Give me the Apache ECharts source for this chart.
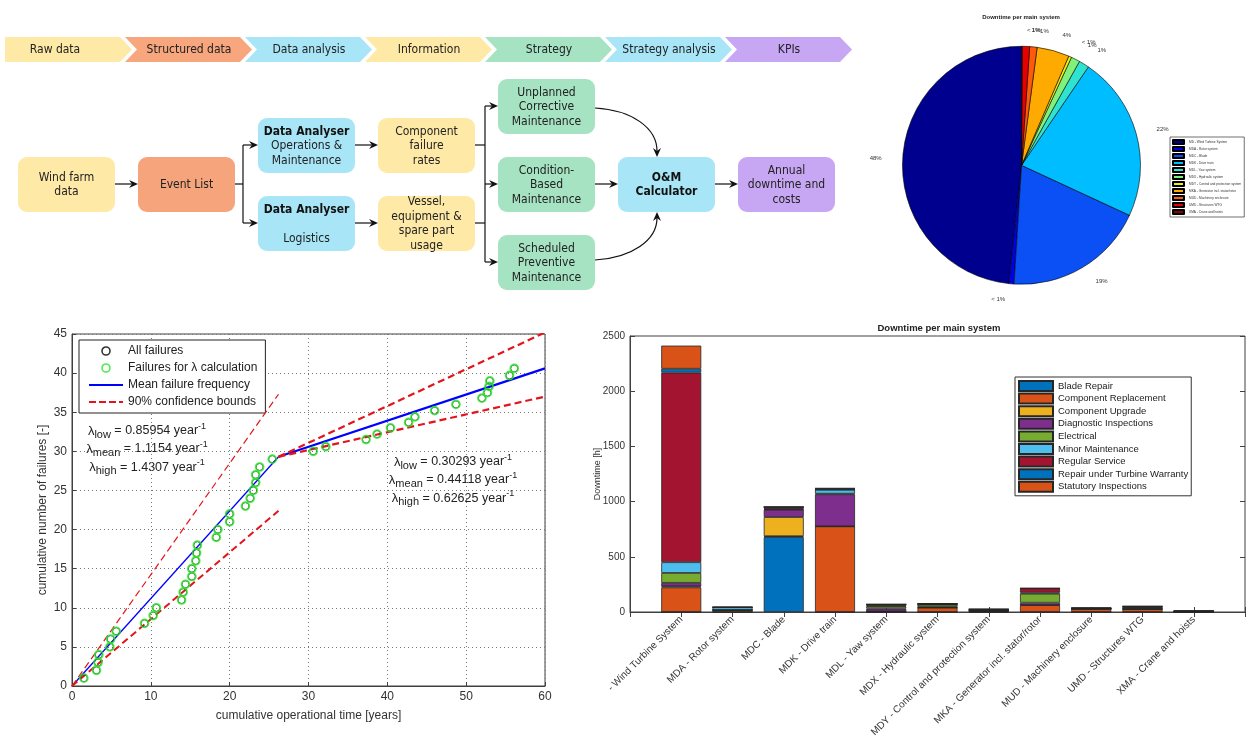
<!DOCTYPE html>
<html><head><meta charset="utf-8">
<script src="https://cdn.jsdelivr.net/npm/echarts@6/dist/echarts.min.js"></script>
<style>html,body{margin:0;padding:0;background:#fff}#c{width:1256px;height:741px}</style>
</head><body><div id="c"></div>
<script>
// ================= DATA =================
// process flow (diagram)
const stageLabels = ['Raw data','Structured data','Data analysis','Information','Strategy','Strategy analysis','KPIs'];
const stageColors = ['#FEEAA6','#F7A67D','#A8E5F6','#FEEAA6','#A6E3C3','#A8E5F6','#C7A7F3'];

// failure data (cumulative operational time [years], cumulative number of failures)
const failTime  = [1.5,3.1,3.3,3.4,4.8,4.9,5.6,9.2,10.3,10.7,13.9,14.1,14.4,15.2,15.2,15.7,15.8,15.9,18.3,18.5,20.0,20.0,22.0,22.6,23.0,23.3,23.3,23.8,25.4,30.6,32.2,37.3,38.7,40.4,42.7,43.5,46.0,48.7,52.0,52.7,52.9,53.0,55.5,56.1];
const failCount = [1,2,3,4,5,6,7,8,9,10,11,12,13,14,15,16,17,18,19,20,21,22,23,24,25,26,27,28,29,30.0,30.6,31.5,32.2,33.0,33.7,34.4,35.2,36.0,36.8,37.5,38.3,39.0,39.7,40.6];
// fitted lines
const meanT1 = [0, 26.2],  meanN1 = [0, 29.3];
const meanT2 = [26.2, 60], meanN2 = [29.3, 40.6];
const highT1 = [0, 26.2],  highN1 = [0, 37.3];
const lowT1  = [0, 26.2],  lowN1  = [0, 22.4];
const highT2 = [26.2, 60], highN2 = [29.3, 45.2];
const lowT2  = [26.2, 60], lowN2  = [29.3, 37.0];
const lambdaLeft  = [['low','0.85954'],['mean','1.1154'],['high','1.4307']];
const lambdaRight = [['low','0.30293'],['mean','0.44118'],['high','0.62625']];

// pie: downtime share per main system [%]
const pieNames  = ['MD - Wind Turbine System','MDA - Rotor system','MDC - Blade','MDK - Drive train','MDL - Yaw system','MDX - Hydraulic system','MDY - Control and protection system','MKA - Generator incl. stator/rotor','MUD - Machinery enclosure','UMD - Structures WTG','XMA - Crane and hoists'];
const pieShares = [48.3, 0.7, 19.1, 22.4, 1.4, 1.2, 0.4, 4.4, 1.0, 1.0, 0.1];
const pieColors = ['#00008F','#0000E6','#0A50F5','#00BDFF','#2EE3CF','#80F27C','#F0EE10','#FFAA00','#FF5A0A','#E60000','#8C0000'];

// stacked bar: downtime [h] per main system and activity
const barCategories = ['- Wind Turbine System','MDA - Rotor system','MDC - Blade','MDK - Drive train','MDL - Yaw system','MDX - Hydraulic system','MDY - Control and protection system','MKA - Generator incl. stator/rotor','MUD - Machinery enclosure','UMD - Structures WTG','XMA - Crane and hoists'];
const barSeriesNames = ['Blade Repair','Component Replacement','Component Upgrade','Diagnostic Inspections','Electrical','Minor Maintenance','Regular Service','Repair under Turbine Warranty','Statutory Inspections'];
const barColors = ['#0072BD','#D95319','#EDB120','#7E2F8E','#77AC30','#4DBEEE','#A2142F','#0072BD','#D95319'];
const bladeRepair          = [0,   0, 679,   0,  0,  0,  0,  0,  0,  0, 0];
const componentReplacement = [223, 18,  8, 776,  5, 40, 10, 63, 30, 27, 3];
const componentUpgrade     = [10,   0, 173,  0,  0,  0,  0,  0,  0,  0, 0];
const diagnosticInspections= [31,   0, 67, 290, 25,  5,  5, 21,  0,  0, 3];
const electrical           = [90,   0,  5,   6, 20, 22,  0, 82,  0, 12, 0];
const minorMaintenance     = [97,  25,  5,  36,  5,  0,  0,  9,  0,  0, 0];
const regularService       = [1717, 0, 14,   0, 14,  8, 10, 39,  6, 12, 3];
const repairWarranty       = [35,   0,  0,  12,  0,  0,  0,  0,  0,  0, 0];
const statutoryInspections = [210,  0,  0,   0,  0,  0,  0,  0,  0,  0, 0];
const barValues = [bladeRepair,componentReplacement,componentUpgrade,diagnosticInspections,electrical,minorMaintenance,regularService,repairWarranty,statutoryInspections];

// ================= RENDER =================
const FLOWFONT = "'DejaVu Sans Condensed','Liberation Sans Narrow','DejaVu Sans',sans-serif";
const FONT = "'Liberation Sans', Arial, Helvetica, sans-serif";
const zip = (a, b) => a.map((v, i) => [v, b[i]]);
const chart = echarts.init(document.getElementById('c'));

// ---------- flow diagram graphic ----------
const g = [];
stageLabels.forEach((lab, i) => {
  const x0 = 5 + 120 * i;
  const pts = [[x0,37],[x0+115,37],[x0+127,49.5],[x0+115,62],[x0,62]];
  if (i > 0) pts.push([x0+12,49.5]);
  g.push({type:'polygon', shape:{points:pts}, style:{fill:stageColors[i]}});
  g.push({type:'text', style:{text:lab, x:x0 + (i ? 64 : 50), y:50, align:'center', verticalAlign:'middle', textAlign:'center', textVerticalAlign:'middle', fontSize:12, fontFamily:FLOWFONT, fill:'#222'}});
});
const boxes = [
  [18,157,'#FEEAA6','Wind farm\ndata'],
  [138,157,'#F5A47C','Event List'],
  [258,118,'#A8E5F6','{b|Data Analyser}\nOperations &\nMaintenance'],
  [258,196,'#A8E5F6','{b|Data Analyser}\n\nLogistics'],
  [378,118,'#FEEAA6','Component\nfailure\nrates'],
  [378,196,'#FEEAA6','Vessel,\nequipment &\nspare part\nusage'],
  [498,79,'#A6E3C3','Unplanned\nCorrective\nMaintenance'],
  [498,157,'#A6E3C3','Condition-\nBased\nMaintenance'],
  [498,235,'#A6E3C3','Scheduled\nPreventive\nMaintenance'],
  [618,157,'#A8E5F6','{b|O&M}\n{b|Calculator}'],
  [738,157,'#C7A7F3','Annual\ndowntime and\ncosts']
];
boxes.forEach(([x,y,c,t]) => {
  g.push({type:'rect', shape:{x:x, y:y, width:97, height:55, r:9}, style:{fill:c}});
  g.push({type:'text', style:{text:t, x:x+48.5, y:y+28, align:'center', verticalAlign:'middle', textAlign:'center', textVerticalAlign:'middle', fontSize:12, lineHeight:14.5, fontFamily:FLOWFONT, fill:'#222',
    rich:{b:{fontWeight:'bold', fontSize:12, lineHeight:14.5, fontFamily:FLOWFONT, fill:'#111'}}}});
});
const LS = {stroke:'#111', lineWidth:1.2};
function head(tx, ty, dx, dy) {
  const L = 9, W = 4, N = 3, bx = tx - L*dx, by = ty - L*dy, nx = -dy, ny = dx;
  return {type:'polygon', shape:{points:[[tx,ty],[bx+W*nx,by+W*ny],[tx-(L-N)*dx,ty-(L-N)*dy],[bx-W*nx,by-W*ny]]}, style:{fill:'#111'}};
}
function harrow(x1, x2, y) {
  g.push({type:'line', shape:{x1:x1, y1:y, x2:x2-6, y2:y}, style:LS});
  g.push(head(x2, y, 1, 0));
}
harrow(115,138,184);
g.push({type:'line', shape:{x1:235,y1:184,x2:243,y2:184}, style:LS});
g.push({type:'line', shape:{x1:243,y1:145,x2:243,y2:223}, style:LS});
harrow(243,258,145); harrow(243,258,223);
harrow(355,378,145); harrow(355,378,223);
g.push({type:'line', shape:{x1:475,y1:145,x2:485,y2:145}, style:LS});
g.push({type:'line', shape:{x1:475,y1:223,x2:485,y2:223}, style:LS});
g.push({type:'line', shape:{x1:485,y1:106,x2:485,y2:262}, style:LS});
harrow(485,498,106); harrow(485,498,184); harrow(485,498,262);
harrow(595,618,184);
harrow(715,738,184);
g.push({type:'bezierCurve', shape:{x1:595,y1:108,cpx1:632,cpy1:110,cpx2:657,cpy2:128,x2:657,y2:151}, style:Object.assign({fill:null}, LS)});
g.push(head(657,157,0,1));
g.push({type:'bezierCurve', shape:{x1:595,y1:260,cpx1:632,cpy1:258,cpx2:657,cpy2:240,x2:657,y2:218}, style:Object.assign({fill:null}, LS)});
g.push(head(657,212,0,-1));

// titles
g.push({type:'text', style:{text:'Downtime per main system', x:1021, y:17, align:'center', verticalAlign:'middle', textAlign:'center', textVerticalAlign:'middle', fontSize:6, fontWeight:'bold', fontFamily:FONT, fill:'#222'}});
g.push({type:'text', style:{text:'Downtime per main system', x:939, y:328, align:'center', verticalAlign:'middle', textAlign:'center', textVerticalAlign:'middle', fontSize:9.5, fontWeight:'bold', fontFamily:FONT, fill:'#222'}});

// lambda annotations
const lamRich = {
  g:{fontSize:13, lineHeight:18, fontFamily:FONT, fill:'#222'},
  t:{fontSize:12.5, lineHeight:18, fontFamily:FONT, fill:'#222'},
  s:{fontSize:11, lineHeight:7, verticalAlign:'bottom', fontFamily:FONT, fill:'#222'},
  p:{fontSize:9, lineHeight:8, verticalAlign:'top', fontFamily:FONT, fill:'#222'}
};
function lamText(arr, cx, ys) {
  arr.forEach(([sub, val], i) => {
    g.push({type:'text', style:{text:'{g|λ}{s|' + sub + '}{t| = ' + val + ' year}{p|-1}', x:cx, y:ys[i], align:'center', verticalAlign:'middle', textAlign:'center', textVerticalAlign:'middle', rich:lamRich}});
  });
}
lamText(lambdaLeft, 147, [431, 449, 467.5]);
lamText(lambdaRight, 453, [462, 480, 498.5]);

// ---------- series ----------
const series = [];
const red = '#E3141B', blue = '#0000FF', green = '#26E626';
series.push({type:'line', name:'Mean failure frequency', xAxisIndex:0, yAxisIndex:0, data:zip(meanT2, meanN2), symbol:'none', showSymbol:false, lineStyle:{color:blue, width:2.2}, itemStyle:{color:blue}, z:3});
series.push({type:'line', name:'Mean failure frequency', xAxisIndex:0, yAxisIndex:0, data:zip(meanT1, meanN1), symbol:'none', showSymbol:false, lineStyle:{color:blue, width:1.3}, itemStyle:{color:blue}, z:3});
[[highT2,highN2,2.2],[lowT2,lowN2,2.2],[lowT1,lowN1,2],[highT1,highN1,1.2]].forEach(([t,n,w]) => {
  series.push({type:'line', name:'90% confidence bounds', xAxisIndex:0, yAxisIndex:0, data:zip(t,n), symbol:'none', showSymbol:false, lineStyle:{color:red, width:w, type:[7,4]}, itemStyle:{color:red}, z:4});
});
series.push({type:'scatter', name:'All failures', xAxisIndex:0, yAxisIndex:0, data:zip(failTime, failCount), symbol:'circle', symbolSize:7,
  itemStyle:{color:'rgba(0,0,0,0)', borderColor:'#000', borderWidth:0.8}, z:5});
series.push({type:'scatter', name:'Failures for λ calculation', xAxisIndex:0, yAxisIndex:0, data:zip(failTime, failCount), symbol:'circle', symbolSize:8,
  itemStyle:{color:'rgba(0,0,0,0)', borderColor:green, borderWidth:1.7}, z:6});

// pie
series.push({type:'pie', name:'Downtime per main system', center:[1021.5,165.3], radius:119, startAngle:90, clockwise:false,
  avoidLabelOverlap:false, silent:true, minShowLabelAngle:0,
  data: pieNames.map((n, i) => ({name:n, value:pieShares[i], itemStyle:{color:pieColors[i]}})),
  itemStyle:{borderColor:'#000', borderWidth:0.6},
  label:{show:true, position:'outside', fontSize:6, color:'#333', fontFamily:FONT,
    formatter: p => p.percent < 1 ? '< 1%' : Math.round(p.percent) + '%'},
  labelLine:{show:false, length:16, length2:0},
  labelLayout:{hideOverlap:false}
});

// stacked bars (category axis padded by an empty slot on each side)
const barAxisCats = [''].concat(barCategories, ['']);
barSeriesNames.forEach((n, s) => {
  series.push({type:'bar', name:n, xAxisIndex:1, yAxisIndex:1, stack:'downtime', barWidth:40,
    data: barCategories.map((c, i) => [i + 1, barValues[s][i]]),
    itemStyle:{color:barColors[s], borderColor:'#262626', borderWidth:0.8}});
});

const axisGray = '#404040';
const lineIcon = 'path://M0,0h34v2h-34z';
const dashIcon = 'path://M0,0h7v2h-7z M10,0h7v2h-7z M20,0h7v2h-7z M30,0h4v2h-4z';
const option = {
  animation:false,
  backgroundColor:'#fff',
  textStyle:{fontFamily:FONT},
  graphic:{elements:g},
  grid:[
    {left:72, top:334, width:473, height:352, show:true, borderColor:axisGray, borderWidth:1, backgroundColor:'rgba(0,0,0,0)', containLabel:false, outerBoundsMode:'none'},
    {left:630, top:336, width:615, height:276, show:true, borderColor:axisGray, borderWidth:1, backgroundColor:'rgba(0,0,0,0)', containLabel:false, outerBoundsMode:'none'}
  ],
  xAxis:[
    {gridIndex:0, type:'value', min:0, max:60, interval:10,
      name:'cumulative operational time [years]', nameLocation:'middle', nameGap:24, nameMoveOverlap:false, nameTextStyle:{fontSize:12, color:'#333'},
      axisLine:{show:true, lineStyle:{color:axisGray}}, axisTick:{show:true, inside:true, length:4, lineStyle:{color:axisGray}},
      axisLabel:{fontSize:12, color:'#333', margin:5},
      splitLine:{show:true, lineStyle:{color:'#777', type:[1,3], width:1}}},
    {gridIndex:1, type:'category', data:barAxisCats, boundaryGap:false,
      axisLine:{show:true, lineStyle:{color:axisGray}}, axisTick:{show:true, inside:true, length:5, interval:0, lineStyle:{color:axisGray}},
      axisLabel:{rotate:45, interval:0, fontSize:10, color:'#333', margin:6},
      splitLine:{show:false}},
    {gridIndex:1, type:'category', data:barAxisCats, boundaryGap:false, position:'top',
      axisLine:{show:false}, axisTick:{show:true, inside:true, length:5, interval:0, lineStyle:{color:axisGray}},
      axisLabel:{show:false}, splitLine:{show:false}}
  ],
  yAxis:[
    {gridIndex:0, type:'value', min:0, max:45, interval:5,
      name:'cumulative number of failures [-]', nameLocation:'middle', nameGap:23, nameMoveOverlap:false, nameTextStyle:{fontSize:12, color:'#333'},
      axisLine:{show:true, lineStyle:{color:axisGray}}, axisTick:{show:true, inside:true, length:4, lineStyle:{color:axisGray}},
      axisLabel:{fontSize:12, color:'#333', margin:5},
      splitLine:{show:true, lineStyle:{color:'#777', type:[1,3], width:1}}},
    {gridIndex:1, type:'value', min:0, max:2500, interval:500,
      name:'Downtime [h]', nameLocation:'middle', nameGap:28, nameMoveOverlap:false, nameTextStyle:{fontSize:9, color:'#333'},
      axisLine:{show:true, lineStyle:{color:axisGray}}, axisTick:{show:true, inside:true, length:5, lineStyle:{color:axisGray}},
      axisLabel:{fontSize:10, color:'#333', margin:5, formatter: v => String(v)}, splitLine:{show:false}},
    {gridIndex:1, type:'value', min:0, max:2500, interval:500, position:'right',
      axisLine:{show:false}, axisTick:{show:true, inside:true, length:5, lineStyle:{color:axisGray}},
      axisLabel:{show:false}, splitLine:{show:false}}
  ],
  legend:[
    {left:79, top:340, orient:'vertical', itemWidth:34, itemHeight:8, itemGap:3,
      padding:[4,8,4,10], backgroundColor:'#fff', borderColor:'#222', borderWidth:1,
      textStyle:{fontSize:12, color:'#222', lineHeight:14, fontFamily:FONT}, selectedMode:false,
      data:[
        {name:'All failures', icon:'circle', itemStyle:{color:'#fff', borderColor:'#000', borderWidth:1.6}},
        {name:'Failures for λ calculation', icon:'circle', itemStyle:{color:'#fff', borderColor:green, borderWidth:1.6}},
        {name:'Mean failure frequency', icon:lineIcon, itemStyle:{color:blue, borderWidth:0}},
        {name:'90% confidence bounds', icon:dashIcon, itemStyle:{color:red, borderWidth:0}}
      ]},
    {left:1015, top:377, orient:'vertical', itemWidth:34, itemHeight:10, itemGap:0.6, icon:'rect',
      padding:[3,3,3,3], backgroundColor:'#fff', borderColor:'#333', borderWidth:1,
      textStyle:{fontSize:9.5, color:'#222', lineHeight:12, fontFamily:FONT}, selectedMode:false,
      data: barSeriesNames},
    {left:1170, top:137, orient:'vertical', itemWidth:11, itemHeight:4, itemGap:1, icon:'rect',
      padding:[2,3,2,2], backgroundColor:'#fff', borderColor:'#111', borderWidth:0.6,
      textStyle:{fontSize:3.2, color:'#333', lineHeight:4.2, fontFamily:FONT}, selectedMode:false,
      data: pieNames}
  ],
  series: series
};
chart.setOption(option);
</script>
</body></html>
